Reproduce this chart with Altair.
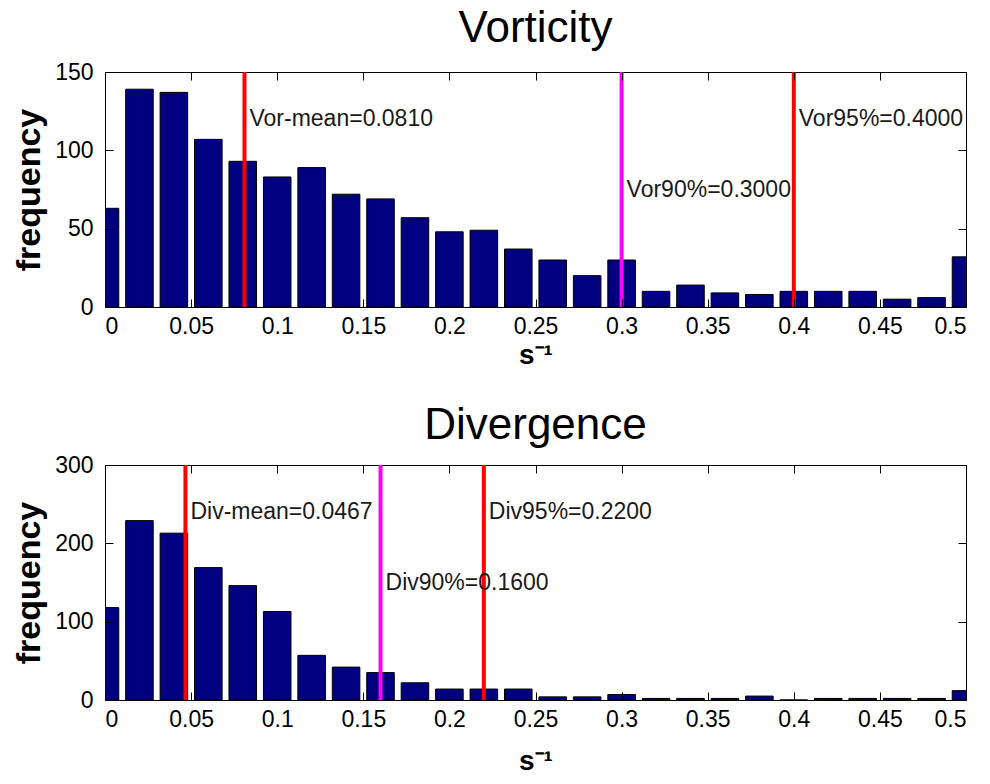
import altair as alt
import pandas as pd

# Histogram bin centres (s^-1), shared by both panels
bin_centers = [0.00, 0.02, 0.04, 0.06, 0.08, 0.10, 0.12, 0.14, 0.16, 0.18,
               0.20, 0.22, 0.24, 0.26, 0.28, 0.30, 0.32, 0.34, 0.36, 0.38,
               0.40, 0.42, 0.44, 0.46, 0.48, 0.50]

# Counts per bin
vorticity_counts = [63, 139, 137, 107, 93, 83, 89, 72, 69, 57,
                    48, 49, 37, 30, 20, 30, 10, 14, 9, 8,
                    10, 10, 10, 5, 6, 32]
divergence_counts = [118, 229, 213, 169, 146, 113, 57, 42, 35, 22,
                     14, 14, 14, 4, 4, 7, 2, 2, 2, 5,
                     0, 2, 2, 2, 2, 12]

# Reference lines: statistic value, label, colour and label height
vor_line_values = [0.0810, 0.3000, 0.4000]
vor_line_labels = ["Vor-mean=0.0810", "Vor90%=0.3000", "Vor95%=0.4000"]
vor_line_colors = ["#ff0000", "#ff00ff", "#ff0000"]
vor_label_heights = [120, 75, 120]

div_line_values = [0.0467, 0.1600, 0.2200]
div_line_labels = ["Div-mean=0.0467", "Div90%=0.1600", "Div95%=0.2200"]
div_line_colors = ["#ff0000", "#ff00ff", "#ff0000"]
div_label_heights = [240, 150, 240]

x_tick_values = [0, 0.05, 0.1, 0.15, 0.2, 0.25, 0.3, 0.35, 0.4, 0.45, 0.5]
vor_y_ticks = [0, 50, 100, 150]
div_y_ticks = [0, 100, 200, 300]

FONT = "Liberation Sans"
W, H = 861, 235
BAR_HALF = 0.008          # bar half-width in data units (0.8 of a bin)
TICK = 8                  # inward tick length


def axis_style(orient, values, show_labels, title=None, fmt=None, title_pad=3):
    kw = dict(
        orient=orient, values=values, grid=False, domain=False,
        ticks=True, tickSize=TICK, offset=-TICK, tickColor="black",
        tickWidth=1, zindex=1, labels=show_labels,
        labelFont=FONT, labelFontSize=23, labelColor="black",
        titleFont=FONT, titleColor="black", titleFontWeight="bold",
    )
    if fmt:
        kw["format"] = fmt
    if orient == "bottom":
        kw.update(labelPadding=8, titleFontSize=28, titlePadding=title_pad)
    if orient == "left":
        kw.update(labelPadding=12, titleFontSize=34, titlePadding=8)
    kw["title"] = title if title is not None else ""
    return alt.Axis(**kw)


def panel(title, counts, ymax, yticks, values, labels, colors, heights,
          title_offset, xtitle_pad):
    bars_df = pd.DataFrame({"center": bin_centers, "count": counts})
    lines_df = pd.DataFrame({"value": values, "label": labels,
                             "color": colors, "height": heights})

    x_scale = alt.Scale(domain=[0, 0.5], nice=False, zero=False)
    y_scale = alt.Scale(domain=[0, ymax], nice=False)

    bars = alt.Chart(bars_df).transform_calculate(
        lo=f"datum.center - {BAR_HALF}",
        hi=f"datum.center + {BAR_HALF}",
    ).mark_bar(color="#000080", stroke="black", strokeWidth=1, clip=True).encode(
        x=alt.X("lo:Q", scale=x_scale,
                axis=axis_style("bottom", x_tick_values, True, "s⁻¹", "~g",
                                title_pad=xtitle_pad)),
        x2="hi:Q",
        y=alt.Y("count:Q", scale=y_scale,
                axis=axis_style("left", yticks, True, "frequency")),
        y2=alt.datum(0),
    )

    # mirrored tick marks on the top and right edges
    mirror = alt.Chart(bars_df).mark_point(opacity=0).encode(
        x=alt.X("center:Q", scale=x_scale,
                axis=axis_style("top", x_tick_values, False)),
        y=alt.Y("count:Q", scale=y_scale,
                axis=axis_style("right", yticks, False)),
    )

    rules = alt.Chart(lines_df).mark_rule(strokeWidth=4).encode(
        x=alt.X("value:Q", scale=x_scale, axis=None),
        color=alt.Color("color:N", scale=None),
    )

    texts = alt.Chart(lines_df).mark_text(
        align="left", baseline="middle", dx=5, font=FONT, fontSize=23,
        color="#1a1a1a",
    ).encode(
        x=alt.X("value:Q", scale=x_scale, axis=None),
        y=alt.Y("height:Q", scale=y_scale, axis=None),
        text="label:N",
    )

    return alt.layer(bars, rules, mirror, texts).resolve_axis(
        x="independent", y="independent"
    ).properties(
        width=W, height=H,
        title=alt.TitleParams(title, font=FONT, fontSize=44,
                              fontWeight="normal", color="black",
                              baseline="alphabetic", offset=title_offset,
                              anchor="middle"),
    )


top = panel("Vorticity", vorticity_counts, 150, vor_y_ticks,
            vor_line_values, vor_line_labels, vor_line_colors, vor_label_heights,
            title_offset=-25, xtitle_pad=3)
bottom = panel("Divergence", divergence_counts, 300, div_y_ticks,
               div_line_values, div_line_labels, div_line_colors, div_label_heights,
               title_offset=-29, xtitle_pad=16)

chart = alt.vconcat(top, bottom, spacing=33).properties(
    padding={"left": 12, "top": 6, "right": 5, "bottom": 5},
    background="white",
).configure_view(stroke="black", strokeWidth=1)

chart.save("out.html", embed_options={"renderer": "svg", "actions": False})
